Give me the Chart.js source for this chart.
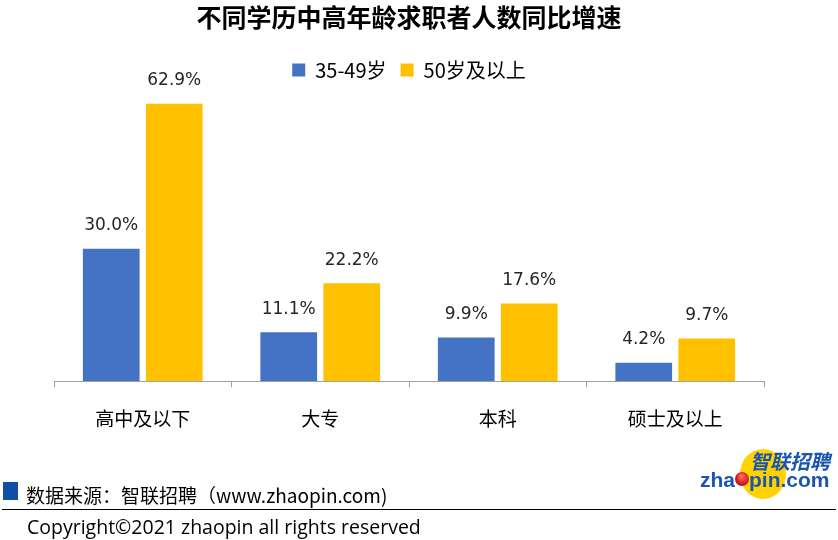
<!DOCTYPE html>
<html>
<head>
<meta charset="utf-8">
<script src="https://cdn.jsdelivr.net/npm/chart.js@4.4.1/dist/chart.umd.min.js"></script>
<style>
  html, body { margin: 0; padding: 0; background: #fff; }
  #wrap { width: 838px; height: 540px; }
</style>
</head>
<body>
<div id="wrap"><canvas id="myChart" width="838" height="540"></canvas></div>
<script>
// data
const categories = ['高中及以下', '大专', '本科', '硕士及以上'];
const age35to49 = [30.0, 11.1, 9.9, 4.2];
const age50plus = [62.9, 22.2, 17.6, 9.7];
const seriesNames = ['35-49岁', '50岁及以上'];

const cjk = '"Noto Sans CJK SC", "Noto Sans", sans-serif';

// value labels above each bar
const barLabels = {
  id: 'barLabels',
  afterDatasetsDraw(chart) {
    const c = chart.ctx;
    c.save();
    c.font = '17px "DejaVu Sans", sans-serif';
    c.fillStyle = '#262626';
    c.textAlign = 'center';
    c.textBaseline = 'middle';
    chart.data.datasets.forEach((ds, i) => {
      chart.getDatasetMeta(i).data.forEach((bar, j) => {
        c.fillText(ds.data[j].toFixed(1) + '%', bar.x, bar.y - 23);
      });
    });
    c.restore();
  }
};

// source note, copyright and logo
const footer = {
  id: 'footer',
  afterDraw(chart) {
    const c = chart.ctx;
    c.save();
    c.fillStyle = '#0f4fa6';
    c.fillRect(3, 482, 15, 18);
    c.fillStyle = '#000';
    c.textBaseline = 'middle';
    c.textAlign = 'left';
    c.font = '19px ' + cjk;
    c.fillText('数据来源：智联招聘（www.zhaopin.com)', 26, 496);
    c.font = '19.5px "Open Sans", sans-serif';
    c.fillText('Copyright©2021 zhaopin all rights reserved', 27, 528);
    c.strokeStyle = '#000';
    c.lineWidth = 1;
    c.beginPath();
    c.moveTo(2, 509.5);
    c.lineTo(836, 509.5);
    c.stroke();

    // logo
    c.fillStyle = '#ffd200';
    c.beginPath();
    c.ellipse(763, 474, 23, 25, 0, 0, Math.PI * 2);
    c.fill();
    c.fillStyle = '#1a56b0';
    c.font = 'italic bold 20px ' + cjk;
    c.textBaseline = 'alphabetic';
    c.fillText('智联招聘', 750, 469);
    c.font = 'bold 21px "Liberation Sans", Arial, sans-serif';
    c.fillText('zha', 700, 487);
    const zw = c.measureText('zha').width;
    const g = c.createRadialGradient(741, 476, 1, 743, 478, 7);
    g.addColorStop(0, '#ff6a5a');
    g.addColorStop(1, '#c8101a');
    c.fillStyle = g;
    c.beginPath();
    c.arc(700 + zw + 7, 479, 7, 0, Math.PI * 2);
    c.fill();
    c.fillStyle = '#1a56b0';
    c.fillText('pin.com', 700 + zw + 14, 487);
    c.restore();
  }
};

const ctx = document.getElementById('myChart').getContext('2d');
const chart = new Chart(ctx, {
  type: 'bar',
  data: {
    labels: categories,
    datasets: [{
      label: seriesNames[0],
      data: age35to49,
      backgroundColor: '#4472c4'
    }, {
      label: seriesNames[1],
      data: age50plus,
      backgroundColor: '#ffc000'
    }]
  },
  options: {
    responsive: false,
    animation: false,
    layout: { padding: { left: 54, right: 74, top: 0, bottom: 90 } },
    datasets: { bar: { categoryPercentage: 0.71, barPercentage: 0.9 } },
    plugins: {
      title: {
        display: true,
        text: '不同学历中高年龄求职者人数同比增速',
        color: '#000',
        font: { family: cjk, size: 25, weight: 'bold' },
        padding: { top: 2, bottom: 14 }
      },
      legend: {
        display: true,
        labels: {
          color: '#000',
          font: { family: cjk, size: 20 },
          boxWidth: 13,
          boxHeight: 13,
          padding: 14
        }
      },
      tooltip: { enabled: false }
    },
    scales: {
      x: {
        grid: { drawOnChartArea: false, color: '#a0a0a0', tickLength: 6 },
        border: { color: '#a0a0a0' },
        ticks: { color: '#000', font: { family: cjk, size: 19 }, padding: 20 }
      },
      y: { display: false, min: 0, max: 66 }
    }
  },
  plugins: [barLabels, footer]
});
</script>
</body>
</html>
